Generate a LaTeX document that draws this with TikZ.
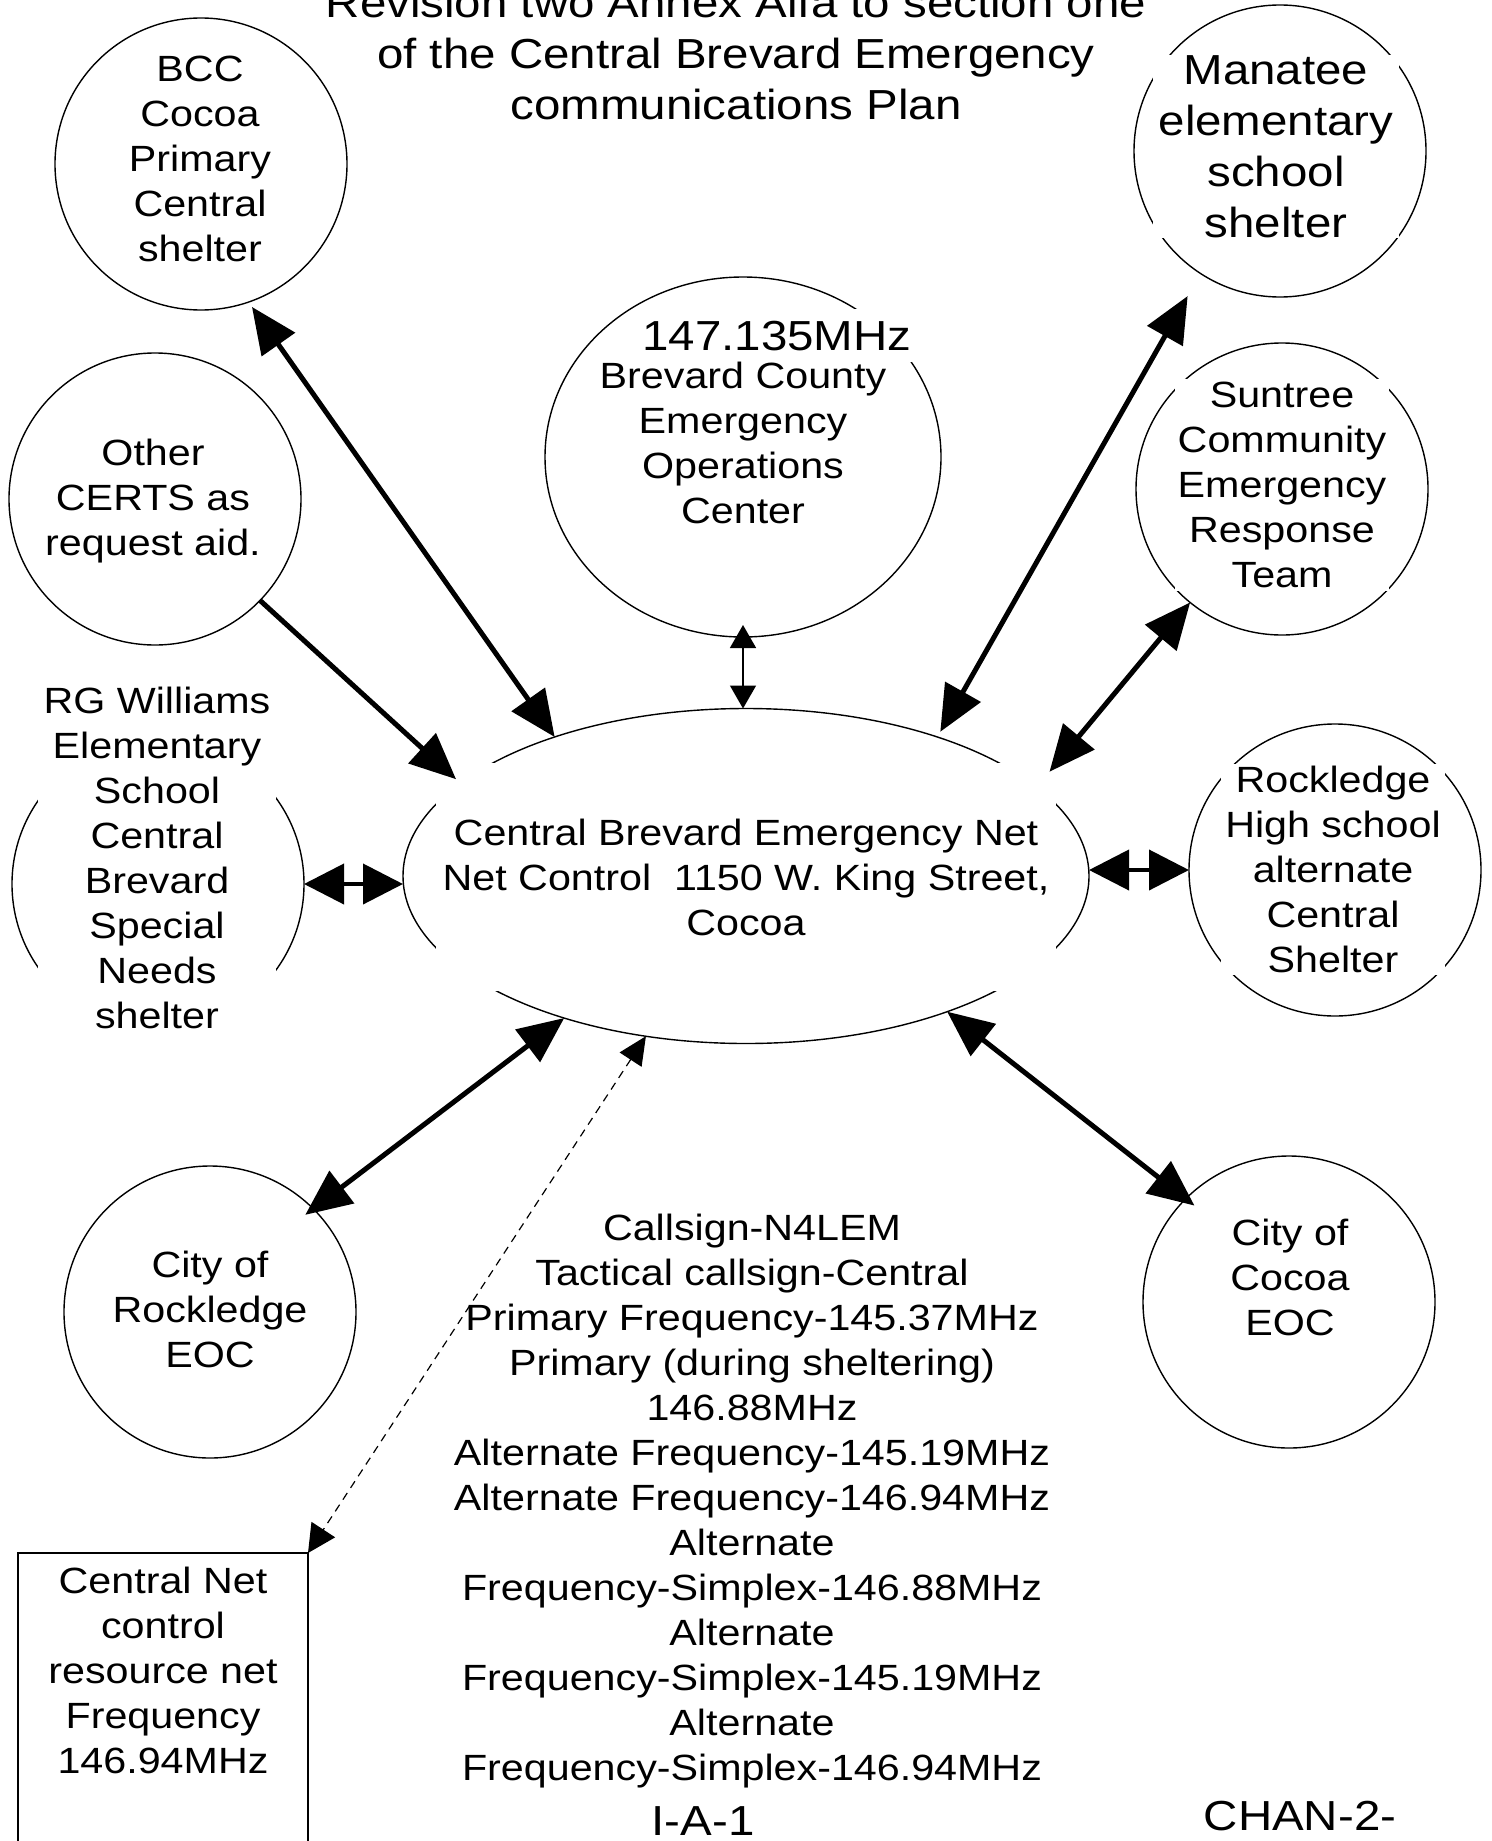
\documentclass[tikz,border=0pt]{standalone}
\usepackage{fontspec}
\newfontfamily\labelfont{Liberation Sans}[FakeStretch=1.13]
\usetikzlibrary{arrows.meta,shapes.geometric}

\begin{document}
\begin{tikzpicture}[x=1pt, y=-1pt,
        lbl/.style={font=\labelfont\fontsize{36.5}{45}\selectfont, align=center, inner sep=0pt},
        biglbl/.style={font=\labelfont\fontsize{42}{51}\selectfont, align=center, inner sep=0pt},
        blank/.style={fill=white},
        site/.style={draw, circle, line width=1.4pt, minimum size=292pt, inner sep=0pt, outer sep=0pt},
        oval/.style={draw, ellipse, line width=1.4pt, inner sep=0pt, outer sep=0pt},
        link/.style={line width=5pt, {Triangle[length=46pt,width=40pt]}-{Triangle[length=46pt,width=40pt]}},
        feed/.style={line width=5pt, -{Triangle[length=46pt,width=40pt]}},
        stub/.style={line width=4pt, {Triangle[length=40pt,width=40pt]}-{Triangle[length=40pt,width=40pt]}}]
    \useasboundingbox (0,0) rectangle (1491,1841);
    \fill[white] (0,0) rectangle (1491,1841);
    \clip (0,0) rectangle (1491,1841);

    \node[site] (bcc) at (201,164) {};
    \node[site] (manatee) at (1280,151) {};
    \node[oval, minimum width=396pt, minimum height=360pt] (eoc) at (743,457) {};
    \node[site] (certs) at (155,499) {};
    \node[site] (suntree) at (1282,489) {};
    \node[site] (rg) at (158,884) {};
    \node[oval, minimum width=686pt, minimum height=335pt] (net) at (746,876) {};
    \node[site] (rhs) at (1335,870) {};
    \node[site] (cr) at (210,1312) {};
    \node[site] (cc) at (1289,1302) {};
    \node[draw, line width=1.4pt, minimum width=290pt, minimum height=300pt, inner sep=0pt, outer sep=0pt, anchor=north west] (resbox) at (18,1553) {};

    \node[biglbl, anchor=north] (title) at (736,-13) {Revision two Annex Alfa to section one\\of the Central Brevard Emergency\\communications Plan};
    \node[lbl, anchor=north] (bcctxt) at (200,56) {BCC\\Cocoa\\Primary\\Central\\shelter};
    \node[biglbl, blank, inner xsep=6pt, anchor=north] (mantxt) at (1276,55) {Manatee\\elementary\\school\\shelter};
    \node[biglbl, blank, inner xsep=4pt, inner ysep=12pt, anchor=base] (freq) at (777,350) {147.135MHz};
    \node[lbl, anchor=north] (eoctxt) at (743,362) {Brevard County\\Emergency\\Operations\\Center};
    \node[lbl, anchor=north] (certstxt) at (153,439) {Other\\CERTS as\\request aid.};
    \node[lbl, blank, inner sep=3pt, anchor=north] (suntxt) at (1282,379) {Suntree\\Community\\Emergency\\Response\\Team};
    \node[lbl, blank, inner xsep=6pt, inner ysep=8pt, anchor=north] (rgtxt) at (157,679) {RG Williams\\Elementary\\School\\Central\\Brevard\\Special\\Needs\\shelter};
    \node[lbl, blank, inner xsep=7pt, inner ysep=56pt] (nettxt) at (746,877) {Central Brevard Emergency Net\\Net Control\ \ 1150 W. King Street,\\Cocoa};
    \node[lbl, blank, inner xsep=4pt, inner ysep=2pt, anchor=north] (rhstxt) at (1333,764) {Rockledge\\High school\\alternate\\Central\\Shelter};
    \node[lbl, anchor=north] (crtxt) at (210,1251) {City of\\Rockledge\\EOC};
    \node[lbl, anchor=north] (cctxt) at (1290,1219) {City of\\Cocoa\\EOC};
    \node[lbl, anchor=north] (info) at (752,1214) {Callsign-N4LEM\\Tactical callsign-Central\\Primary Frequency-145.37MHz\\Primary (during sheltering)\\146.88MHz\\Alternate Frequency-145.19MHz\\Alternate Frequency-146.94MHz\\Alternate\\Frequency-Simplex-146.88MHz\\Alternate\\Frequency-Simplex-145.19MHz\\Alternate\\Frequency-Simplex-146.94MHz};
    \node[lbl, anchor=north] (boxtxt) at (163,1567) {Central Net\\control\\resource net\\Frequency\\146.94MHz};
    \node[biglbl, anchor=base] (page) at (703,1835) {I-A-1};
    \node[biglbl, anchor=base] (chan) at (1300,1830) {CHAN-2-};

    \draw[link, shorten <=6pt] (bcc.-71) -- (net.144.4);
    \draw[feed, shorten >=6pt] (certs.-44.4) -- (net.162.8);
    \draw[link, shorten <=26pt, shorten >=6pt] (manatee.-123.4) -- (net.36.3);
    \draw[link, shorten >=20pt] (suntree.-129.2) -- (net.17.6);
    \draw[stub] (rg.east) -- (rg.east -| net.west);
    \draw[stub] (rhs.west) -- (rhs.west -| net.east);
    \draw[link, shorten <=-10pt] (cr.45) -- (net.-142.6);
    \draw[link, shorten >=-11pt] (net.-34.5) -- (cc.135.6);
    \draw[line width=1.5pt, {Triangle[length=23pt,width=26pt]}-{Triangle[length=23pt,width=26pt]}, shorten <=-12pt] (eoc.south) -- (eoc.south |- net.north);
    \draw[line width=1.2pt, dash pattern=on 8pt off 6pt, {Triangle[length=28pt,width=26pt]}-{Triangle[length=28pt,width=28pt]}] (net.-122.3) -- (resbox.north east);
\end{tikzpicture}
\end{document}
